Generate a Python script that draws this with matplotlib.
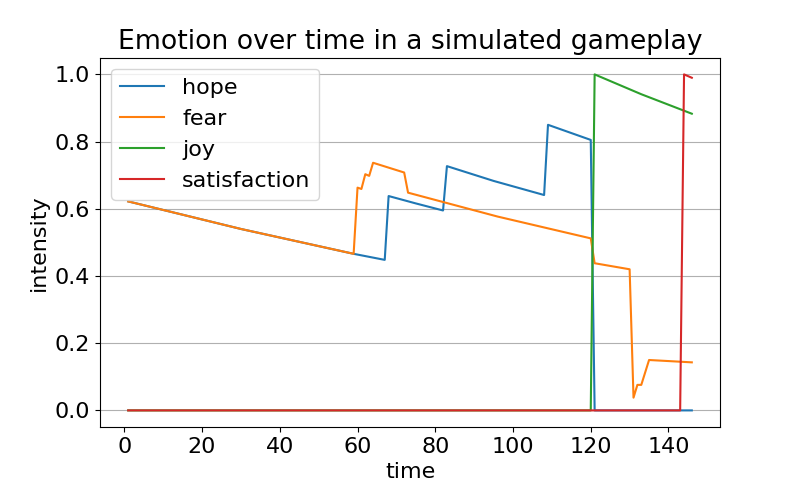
import matplotlib
matplotlib.use("Agg")
import matplotlib.pyplot as plt

# vertices (time, intensity)
hope_t = [1, 30, 59, 67, 68, 75, 82, 83, 95, 108, 109, 120, 121, 146]
hope_y = [0.622, 0.540, 0.466, 0.448, 0.638, 0.616, 0.595, 0.727, 0.683, 0.641, 0.850, 0.805, 0.0, 0.0]

fear_t = [1, 30, 59, 60, 61, 62, 63, 64, 72, 73, 96, 120, 121, 130, 131, 132, 133, 135, 146]
fear_y = [0.622, 0.540, 0.466, 0.663, 0.659, 0.703, 0.698, 0.737, 0.708, 0.648, 0.577, 0.512,
          0.438, 0.420, 0.038, 0.076, 0.076, 0.150, 0.143]

joy_t = [1, 120, 121, 133, 146]
joy_y = [0.0, 0.0, 1.0, 0.941, 0.883]

satisfaction_t = [1, 143, 144, 146]
satisfaction_y = [0.0, 0.0, 1.0, 0.990]

plt.rcParams["font.size"] = 16

fig, ax = plt.subplots(figsize=(8, 4.8), dpi=100)
ax.plot(hope_t, hope_y, label="hope")
ax.plot(fear_t, fear_y, label="fear")
ax.plot(joy_t, joy_y, label="joy")
ax.plot(satisfaction_t, satisfaction_y, label="satisfaction")

ax.set_title("Emotion over time in a simulated gameplay")
ax.set_xlabel("time")
ax.set_ylabel("intensity")
ax.grid(axis="y")
ax.legend(loc="upper left")

plt.savefig("out.png")
